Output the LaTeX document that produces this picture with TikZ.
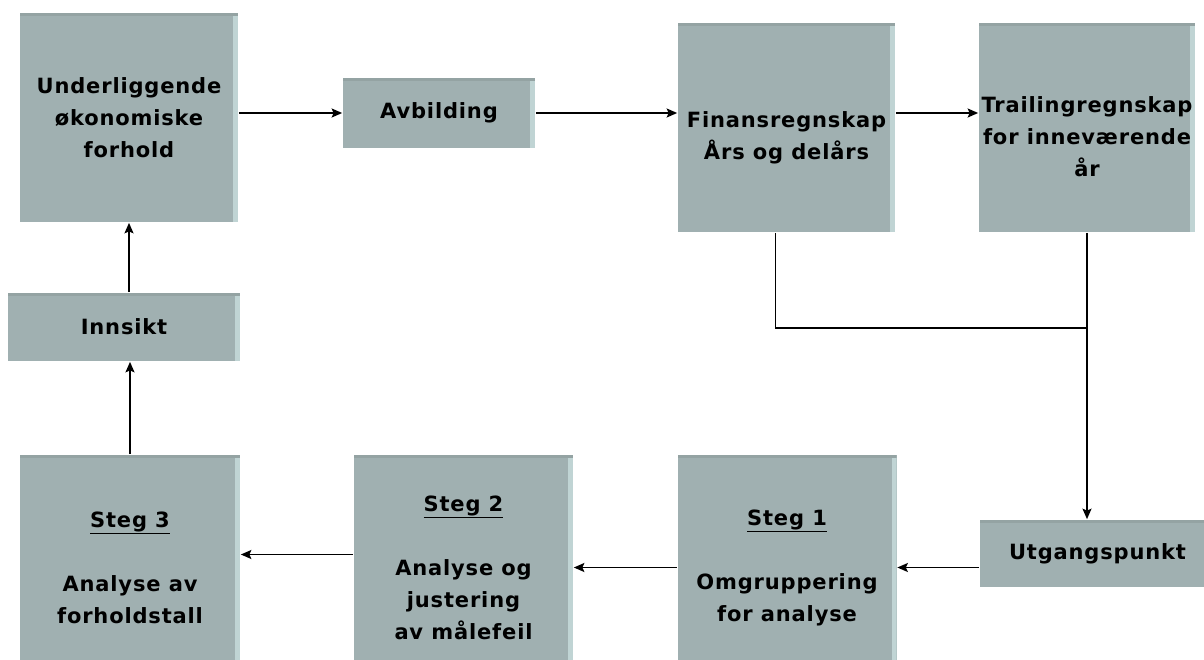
\documentclass[tikz,border=0pt]{standalone}
\usepackage{fontspec}
\setmainfont{DejaVu Sans}[LetterSpace=4]
\usetikzlibrary{arrows.meta,positioning}
\definecolor{boxgrey}{RGB}{160,176,177}
\definecolor{boxedge}{RGB}{192,212,212}
\definecolor{boxtop}{RGB}{148,163,163}

\begin{document}
\begin{tikzpicture}[>={Stealth[length=10.5pt,width=9pt,inset=2pt]},->,x=1pt,y=-1pt,line width=1.7pt,
                    font=\bfseries\fontsize{21}{32}\selectfont]
  \tikzstyle{block}=[rectangle,fill=boxgrey,align=center,inner sep=0pt,
    path picture={
      \fill[boxedge,-] ([xshift=-5pt]path picture bounding box.north east)
        rectangle (path picture bounding box.south east);
      \fill[boxtop,-] (path picture bounding box.north west)
        rectangle ([yshift=-3pt]path picture bounding box.north east);}]

  \useasboundingbox (0,0) rectangle (1204,659);
  \clip (0,0) rectangle (1204,659);

  \node[block,minimum width=218pt,minimum height=209pt] (U)   at (129,117.5)  {Underliggende\\økonomiske\\forhold};
  \node[block,minimum width=192pt,minimum height=70pt]  (Avb) at (439,113)    {Avbilding};
  \node[block,minimum width=217pt,minimum height=209pt] (Fin) at (786.5,127.5) {\rule{0pt}{36pt}Finansregnskap\\Års og delårs};
  \node[block,minimum width=216pt,minimum height=209pt] (Tra) at (1087,127.5) {\rule{0pt}{34pt}Trailingregnskap\\for inneværende\\år};
  \node[block,minimum width=232pt,minimum height=68pt]  (Inn) at (124,327)    {Innsikt};
  \node[block,minimum width=220pt,minimum height=225pt] (S3)  at (130,567.5)  {\underline{Steg 3}\\[32pt]Analyse av\\forholdstall};
  \node[block,minimum width=219pt,minimum height=225pt] (S2)  at (463.5,567.5) {\underline{Steg 2}\\[32pt]Analyse og\\justering\\av målefeil};
  \node[block,minimum width=219pt,minimum height=225pt] (S1)  at (787,567.5)  {\underline{Steg 1}\\[32pt]Omgruppering\\for analyse};
  \node[block,minimum width=235pt,minimum height=67pt]  (Utg) at (1097.5,553.5) {Utgangspunkt};
  \coordinate (merge) at (0,328);

  \draw (U.east |- Avb.west)   -- (Avb.west);
  \draw (Avb.east)             -- (Fin.west |- Avb.east);
  \draw (Fin.east |- Avb.east) -- (Tra.west |- Avb.east);
  \draw (Inn.north -| U.south) -- (U.south);
  \draw (S3.north)             -- (S3.north |- Inn.south);
  \draw (Utg.west |- S1.east)  -- (S1.east);
  \draw (S1.west)              -- (S2.east);
  \draw ([yshift=13pt]S2.west) -- ([yshift=13pt]S3.east);
  \draw (Tra.south)            -- (Tra.south |- Utg.north);
  \draw[-] ([xshift=-11pt]Fin.south) |- (Tra.south |- merge);
\end{tikzpicture}
\end{document}
